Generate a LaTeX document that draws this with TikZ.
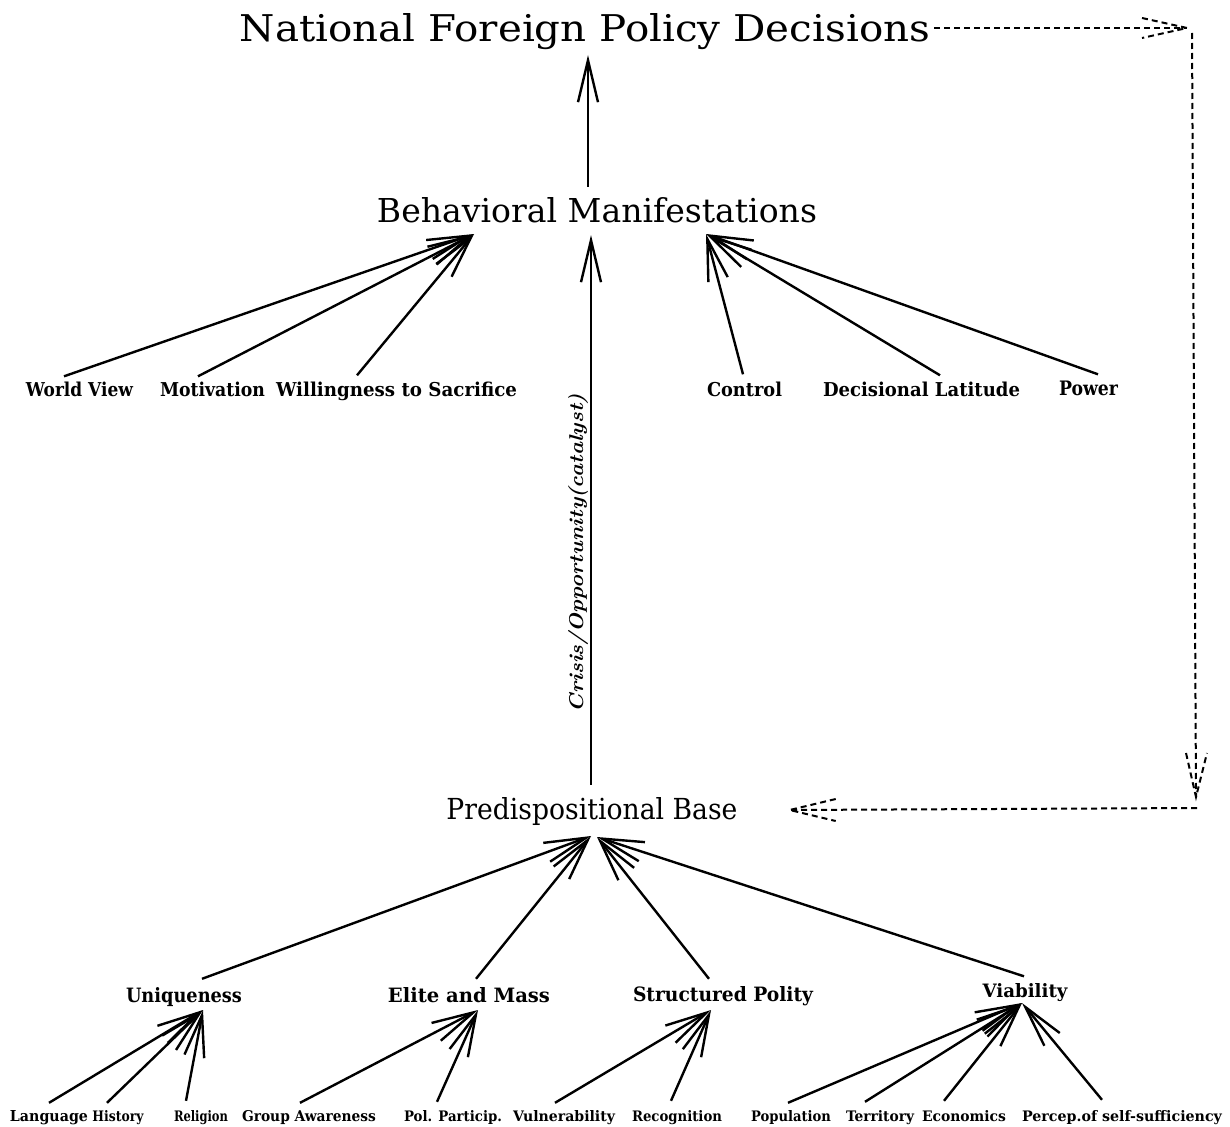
\documentclass[tikz,border=0pt]{standalone}
\usepackage{fontspec}
\usepackage{graphicx}
\usetikzlibrary{arrows.meta,calc}
\newfontfamily\ttlfont{DejaVu Serif}
\newfontfamily\labfont{DejaVu Serif}
\newcommand{\mytitle}[3]{\resizebox{#1pt}{#2pt}{\ttlfont #3}}
\newcommand{\mylab}[3]{\resizebox{#1pt}{#2pt}{\labfont\bfseries #3}}
\begin{document}
\begin{tikzpicture}[x=1pt,y=-1pt,
  txt/.style={anchor=base,inner sep=0pt},
  arr/.style={line width=2.4pt,-{Straight Barb[length=42pt,width=20pt]}},
  dsh/.style={line width=2pt,dash pattern=on 6pt off 4pt}]
\useasboundingbox (0,0) rectangle (1230,1126);

% main titles
\node[txt] (nfpd) at (585,42) {\mytitle{690}{28}{National Foreign Policy Decisions}};
\node[txt] (bm) at (597,222) {\mytitle{440}{25}{Behavioral Manifestations}};
\node[txt] (pb) at (592,819) {\mytitle{291}{22}{Predispositional Base}};

% behavioral factors
\node[txt] (wv) at (79.5,396) {\mylab{107}{14.5}{World View}};
\node[txt] (mot) at (212.5,396) {\mylab{105}{14.5}{Motivation}};
\node[txt] (wil) at (396.5,396) {\mylab{241}{14.5}{Willingness to Sacrifice}};
\node[txt] (ctl) at (744.5,396) {\mylab{75}{14.5}{Control}};
\node[txt] (dl) at (921.5,396) {\mylab{197}{14.5}{Decisional Latitude}};
\node[txt] (pow) at (1088.5,395) {\mylab{59}{14.5}{Power}};

% predispositional groups
\node[txt] (uni) at (184,1002) {\mylab{116}{15}{Uniqueness}};
\node[txt] (elm) at (469,1002) {\mylab{162}{15}{Elite and Mass}};
\node[txt] (stp) at (723,1001) {\mylab{180}{15}{Structured Polity}};
\node[txt] (via) at (1025,997) {\mylab{85}{14}{Viability}};

% bottom factors
\node[txt] (lang) at (49,1121) {\mylab{78}{11}{Language}};
\node[txt] (hist) at (118,1121) {\mylab{51}{11}{History}};
\node[txt] (rel) at (201,1121) {\mylab{54}{11}{Religion}};
\node[txt] (grp) at (309,1121) {\mylab{134}{11}{Group Awareness}};
\node[txt] (pol) at (453,1121) {\mylab{98}{11}{Pol. Particip.}};
\node[txt] (vul) at (564,1121) {\mylab{102}{11}{Vulnerability}};
\node[txt] (rec) at (677,1121) {\mylab{90}{11}{Recognition}};
\node[txt] (popn) at (791,1121) {\mylab{80}{11}{Population}};
\node[txt] (ter) at (880,1121) {\mylab{68}{11}{Territory}};
\node[txt] (eco) at (964,1121) {\mylab{84}{11}{Economics}};
\node[txt] (per) at (1122,1121) {\mylab{200}{11}{Percep.of self-sufficiency}};

% catalyst label
\node[rotate=90,anchor=base,inner sep=0pt] (cr) at (583,553) {\resizebox{318pt}{15pt}{\itshape\bfseries Crisis/Opportunity(catalyst)}};

% vertical chain
\draw[arr] ([xshift=-9pt,yshift=10pt]bm.north) -- ([xshift=3pt,yshift=-13pt]nfpd.base);
\draw[arr] ([xshift=-1pt,yshift=12pt]pb.north) -- ([xshift=-6pt,yshift=-13pt]bm.base);

% behavioral fan-in
\draw[arr] ([xshift=-15.5pt,yshift=5pt]wv.north) -- ([xshift=-123pt,yshift=-12pt]bm.base);
\draw[arr] ([xshift=-14.5pt,yshift=5pt]mot.north) -- ([xshift=-123pt,yshift=-12pt]bm.base);
\draw[arr] ([xshift=-39.5pt,yshift=6pt]wil.north) -- ([xshift=-123pt,yshift=-12pt]bm.base);
\draw[arr] ([xshift=-1.5pt,yshift=7pt]ctl.north) -- ([xshift=109pt,yshift=-12pt]bm.base);
\draw[arr] ([xshift=18.5pt,yshift=6pt]dl.north) -- ([xshift=109pt,yshift=-12pt]bm.base);
\draw[arr] ([xshift=9.5pt,yshift=6pt]pow.north) -- ([xshift=109pt,yshift=-12pt]bm.base);

% predispositional fan-in
\draw[arr] ([xshift=18pt,yshift=8pt]uni.north) -- ([xshift=-1pt,yshift=-17pt]pb.base);
\draw[arr] ([xshift=7pt,yshift=8pt]elm.north) -- ([xshift=-1pt,yshift=-17pt]pb.base);
\draw[arr] ([xshift=-14pt,yshift=7pt]stp.north) -- ([xshift=5pt,yshift=-18pt]pb.base);
\draw[arr] ([xshift=-1pt,yshift=6.5pt]via.north) -- ([xshift=5pt,yshift=-18pt]pb.base);

% bottom fan-ins
\draw[arr] ([xshift=0pt,yshift=7pt]lang.north) -- ([xshift=19pt,yshift=-8pt]uni.base);
\draw[arr] ([xshift=-11pt,yshift=7pt]hist.north) -- ([xshift=19pt,yshift=-8pt]uni.base);
\draw[arr] ([xshift=-15pt,yshift=9pt]rel.north) -- ([xshift=19pt,yshift=-8pt]uni.base);
\draw[arr] ([xshift=-9pt,yshift=7pt]grp.north) -- ([xshift=9pt,yshift=-8pt]elm.base);
\draw[arr] ([xshift=-16pt,yshift=8pt]pol.north) -- ([xshift=9pt,yshift=-8pt]elm.base);
\draw[arr] ([xshift=-9pt,yshift=7pt]vul.north) -- ([xshift=-12pt,yshift=-9pt]stp.base);
\draw[arr] ([xshift=-6pt,yshift=9pt]rec.north) -- ([xshift=-12pt,yshift=-9pt]stp.base);
\draw[arr] ([xshift=-3pt,yshift=7pt]popn.north) -- ([xshift=-3pt,yshift=-6pt]via.base);
\draw[arr] ([xshift=-15pt,yshift=8pt]ter.north) -- ([xshift=-3pt,yshift=-6pt]via.base);
\draw[arr] ([xshift=-20pt,yshift=9pt]eco.north) -- ([xshift=-3pt,yshift=-6pt]via.base);
\draw[arr] ([xshift=-20pt,yshift=10pt]per.north) -- ([xshift=-3pt,yshift=-6pt]via.base);

% dashed feedback loop
\coordinate (r1) at (1187,28);
\coordinate (r2a) at (1192,33);
\coordinate (r2) at (1196,797);
\coordinate (r3) at (1197,808);
\coordinate (r4) at ([xshift=52pt,yshift=9pt]pb.base east);
\draw[dsh] ([xshift=4pt,yshift=14pt]nfpd.base east) -- (r1);
\draw[dsh] ($(r1)+(-45,-10)$) -- (r1) -- ($(r1)+(-45,10)$);
\draw[dsh] (r2a) -- (r2);
\draw[dsh] ($(r2)+(-10,-44)$) -- (r2) -- ($(r2)+(11,-44)$);
\draw[dsh] (r3) -- (r4);
\draw[dsh] ($(r4)+(46,-11)$) -- (r4) -- ($(r4)+(46,11)$);
\end{tikzpicture}
\end{document}
